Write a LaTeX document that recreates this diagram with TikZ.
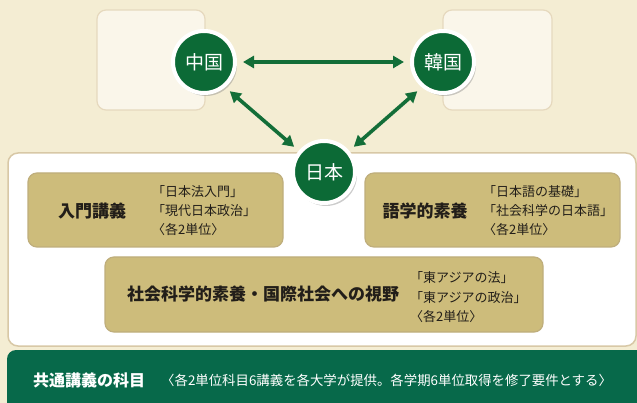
\documentclass[tikz,border=0pt]{standalone}
\usepackage{fontspec}
\setmainfont{Noto Sans CJK JP}
\usetikzlibrary{arrows.meta,shadows}
\definecolor{bgcream}{HTML}{F4EDD3}
\definecolor{lightbox}{HTML}{FAF6EA}
\definecolor{lightedge}{HTML}{E6D9BE}
\definecolor{paneledge}{HTML}{D8C8A6}
\definecolor{gold}{HTML}{CDBC7B}
\definecolor{goldedge}{HTML}{BFAE7C}
\definecolor{circgreen}{HTML}{0C6A36}
\definecolor{bargreen}{HTML}{07694A}
\definecolor{arrowgreen}{HTML}{136E38}
\definecolor{txt}{HTML}{221E19}
\tikzset{
  country/.style={circle, fill=circgreen, draw=white, line width=4pt, minimum size=62pt, inner sep=0pt,
    text=white, font=\fontsize{19}{19}\selectfont,
    drop shadow={opacity=0.4, shadow xshift=2pt, shadow yshift=-3pt}},
  link/.style={draw=arrowgreen, line width=3.6pt, {Triangle[length=11pt,width=12pt]}-{Triangle[length=11pt,width=12pt]}, shorten <=6pt, shorten >=6pt},
  lbox/.style={draw=lightedge, line width=1.2pt, fill=lightbox, rounded corners=9pt},
  goldbox/.style={draw=goldedge, line width=1.2pt, fill=gold, rounded corners=9pt},
  title/.style={inner sep=0pt, text=txt, font=\fontsize{17}{17}\selectfont\bfseries},
  detail/.style={inner sep=0pt, anchor=west, align=left, text=txt, font=\fontsize{13}{19}\selectfont},
}
\begin{document}
\begin{tikzpicture}[x=1pt,y=-1pt]
\useasboundingbox (0,0) rectangle (637,403);
\clip (0,0) rectangle (637,403);
\fill[bgcream] (0,0) rectangle (637,403);
% light boxes
\draw[lbox] (97,10) rectangle (205,110);
\draw[lbox] (443,10) rectangle (552,110);
% white panel
\draw[draw=paneledge, line width=1.5pt, fill=white, rounded corners=10pt] (8,153) rectangle (636,346);
% gold boxes
\draw[goldbox] (28,173) rectangle (283,247);
\draw[goldbox] (365,173) rectangle (620,247);
\draw[goldbox] (105,257) rectangle (543,332);
% texts in gold boxes
\node[title] (t1) at (92,211) {入門講義};
\node[detail] (d1) at (152,211) {「日本法入門」\\「現代日本政治」\\〈各2単位〉};
\node[title] (t2) at (425,211) {語学的素養};
\node[detail] (d2) at (483,211) {「日本語の基礎」\\「社会科学の日本語」\\〈各2単位〉};
\node[title] (t3) at (263,294) {社会科学的素養・国際社会への視野};
\node[detail, font=\fontsize{13}{19.5}\selectfont] (d3) at (410,297.5) {「東アジアの法」\\「東アジアの政治」\\〈各2単位〉};
% bottom bar
\fill[bargreen, rounded corners=9pt] (7,350) rectangle (660,420);
\node[inner sep=0pt, anchor=west, text=white, font=\fontsize{16}{16}\selectfont\bfseries] (b1) at (33,380) {共通講義の科目};
\node[inner sep=0pt, anchor=west, text=white, font=\fontsize{13.4}{13.4}\selectfont] (b2) at (161,380) {〈各2単位科目6講義を各大学が提供。各学期6単位取得を修了要件とする〉};
% circles
\node[country] (cn) at (204,62) {中国};
\node[country] (kr) at (443,62) {韓国};
\node[country] (jp) at (324,172) {日本};
% links
\draw[link] (cn) -- (kr);
\draw[link] (cn.-50) -- (jp.140);
\draw[link] (kr.-130) -- (jp.40);
\end{tikzpicture}
\end{document}
